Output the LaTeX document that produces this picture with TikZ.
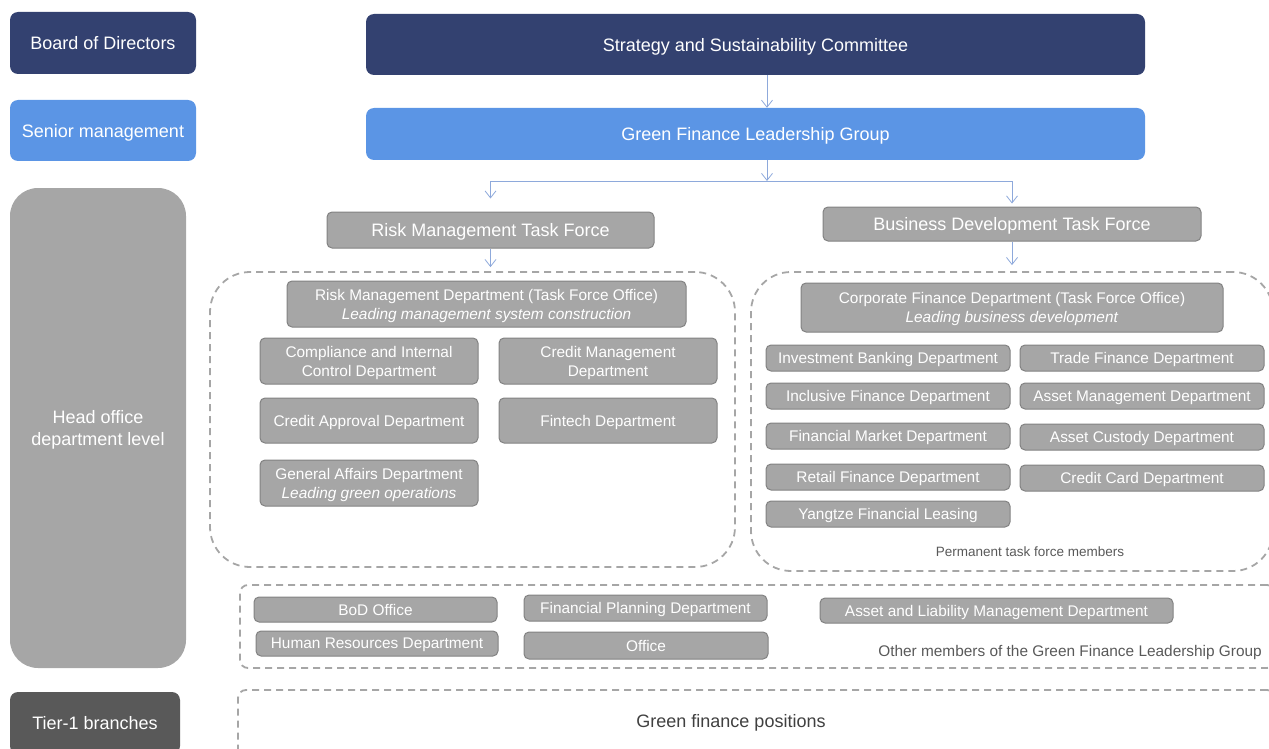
\documentclass[tikz,border=0pt]{standalone}
\usepackage{fontspec}
\setmainfont{Liberation Sans}
\usetikzlibrary{arrows.meta,calc}

\definecolor{navy}{RGB}{51,65,112}
\definecolor{skyblue}{RGB}{91,149,229}
\definecolor{midgray}{RGB}{166,166,166}
\definecolor{edgegray}{RGB}{130,130,130}
\definecolor{darkgray}{RGB}{89,89,89}
\definecolor{linkblue}{RGB}{142,169,219}
\definecolor{notegray}{RGB}{64,64,64}

\tikzset{
  wh/.style 2 args={minimum width=#1, minimum height=#2},
  level/.style={rounded corners=8, text=white, inner sep=0, align=center, text depth=0,
    font=\fontsize{18}{22}\selectfont},
  dept/.style={fill=midgray, draw=edgegray, line width=1, rounded corners=5, text depth=0,
    text=white, inner sep=0, align=center, font=\fontsize{15.4}{19}\selectfont},
  taskforce/.style={dept, font=\fontsize{18}{21}\selectfont},
  group/.style={draw=midgray, line width=1.8, dash pattern=on 7 off 5, inner sep=0},
  link/.style={draw=linkblue, line width=0.8, -{Straight Barb[length=7,width=11]}},
  note/.style={text=darkgray, inner sep=0, text depth=0, font=\fontsize{15.4}{18}\selectfont}
}

\begin{document}
\begin{tikzpicture}[x=1pt, y=-1pt]
\useasboundingbox (0,0) rectangle (1269,749);
\clip (0,0) rectangle (1269,749);

% level labels on the left
\node[level, fill=navy, wh={186}{62}] (bod) at (103,43) {Board of Directors};
\node[level, fill=skyblue, wh={186}{61}] (senior) at (103,130.5) {Senior management};
\node[level, fill=midgray, rounded corners=28, wh={176}{480}] (head) at (98,428) {Head office\\department level};
\node[level, fill=darkgray, wh={170}{62}] (tier) at (95,723) {Tier-1 branches};

% governance bodies
\node[level, fill=navy, wh={779}{61}] (ssc) at (755.5,44.5) {Strategy and Sustainability Committee};
\node[level, fill=skyblue, wh={779}{52}] (gflg) at (755.5,134) {Green Finance Leadership Group};

% task forces
\node[taskforce, wh={327}{36}] (rmtf) at (490.5,230) {Risk Management Task Force};
\node[taskforce, wh={378}{34}] (bdtf) at (1012,224) {Business Development Task Force};

% dashed member groups
\node[group, rounded corners=40, wh={525}{295}] (riskgrp) at (472.5,419.5) {};
\node[group, rounded corners=40, wh={522}{299}] (bizgrp) at (1012,421.5) {};
\node[group, rounded corners=8, wh={1035}{83}] (othergrp) at (757.5,626.5) {};
\node[group, rounded corners=8, wh={1037}{70}] (posgrp) at (756.5,725) {};

% risk management task force members
\node[dept, wh={399}{46}] (rmd) at (486.5,304) {Risk Management Department (Task Force Office)\\\textit{Leading management system construction}};
\node[dept, wh={218}{46}] (comp) at (369,361) {Compliance and Internal\\Control Department};
\node[dept, wh={218}{46}] (credm) at (608,361) {Credit Management\\Department};
\node[dept, wh={218}{45}] (credapp) at (369,420.5) {Credit Approval Department};
\node[dept, wh={218}{45}] (fintech) at (608,420.5) {Fintech Department};
\node[dept, wh={218}{46}] (genaff) at (369,483) {General Affairs Department\\\textit{Leading green operations}};

% business development task force members
\node[dept, wh={422}{49}] (cfd) at (1012,307.5) {Corporate Finance Department (Task Force Office)\\\textit{Leading business development}};
\node[dept, wh={244}{26}] (invb) at (888,358) {Investment Banking Department};
\node[dept, wh={244}{26}] (trade) at (1142,358) {Trade Finance Department};
\node[dept, wh={244}{26}] (incl) at (888,396) {Inclusive Finance Department};
\node[dept, wh={244}{26}] (assetm) at (1142,396) {Asset Management Department};
\node[dept, wh={244}{26}] (finmkt) at (888,436) {Financial Market Department};
\node[dept, wh={244}{26}] (custody) at (1142,437) {Asset Custody Department};
\node[dept, wh={244}{26}] (retail) at (888,477) {Retail Finance Department};
\node[dept, wh={244}{26}] (card) at (1142,478) {Credit Card Department};
\node[dept, wh={244}{26}] (yangtze) at (888,514) {Yangtze Financial Leasing};
\node[note, font=\fontsize{13.5}{16}\selectfont] (permnote) at (1030,552) {Permanent task force members};

% other members of the leadership group
\node[dept, wh={243}{25}] (bodo) at (375.5,609.5) {BoD Office};
\node[dept, wh={242}{25}] (hr) at (377,643.5) {Human Resources Department};
\node[dept, wh={243}{26}] (finplan) at (645.5,608) {Financial Planning Department};
\node[dept, wh={244}{27}] (office) at (646,645.5) {Office};
\node[dept, wh={353}{25}] (alm) at (996.5,610.5) {Asset and Liability Management Department};
\node[note, anchor=east] (othernote) at (1262,651) {Other members of the Green Finance Leadership Group};

% branch level
\node[note, text=notegray, font=\fontsize{18}{21}\selectfont] (posnote) at (731,721) {Green finance positions};

% connectors
\coordinate (split) at (767,181);
\draw[link] (ssc.south -| split) -- (gflg.north -| split);
\draw[link] (gflg.south -| split) -- (split);
\draw[link, shorten >=13] (split) -| (rmtf.north);
\draw[link, shorten >=3] (split) -| (bdtf.north);
\draw[link, shorten >=4] (rmtf.south) -- (rmtf.south |- riskgrp.north);
\draw[link, shorten >=6] (bdtf.south) -- (bdtf.south |- bizgrp.north);
\end{tikzpicture}
\end{document}
